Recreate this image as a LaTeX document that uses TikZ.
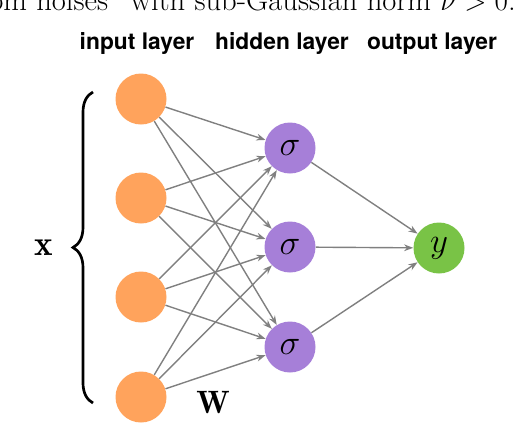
\documentclass[tikz,border=0pt]{standalone}
\usepackage{amsmath}
\usepackage{amssymb}
\usepackage{xcolor}
\usepackage{fontspec}
\newfontfamily\headfont{TeX Gyre Heros}
\usepackage{tikz}
\usetikzlibrary{arrows.meta,shapes,positioning,calc,decorations.pathreplacing}

\definecolor{inorange}{RGB}{255,163,92}
\definecolor{hidpurple}{RGB}{166,127,216}
\definecolor{outgreen}{RGB}{121,195,70}

\begin{document}
\begin{tikzpicture}[
    x=0.025cm, y=-0.025cm,
    inp/.style={circle, fill=inorange, minimum size=51*0.025cm, inner sep=0pt},
    hid/.style={circle, fill=hidpurple, minimum size=51*0.025cm, inner sep=0pt, font=\fontsize{28}{30}\selectfont},
    outp/.style={circle, fill=outgreen, minimum size=51*0.025cm, inner sep=0pt, font=\fontsize{28}{30}\selectfont},
    conn/.style={->, draw=gray, line width=1pt, >={Stealth[length=6.5pt,width=4.8pt]}},
    layer/.style={font=\headfont\bfseries\fontsize{16.2}{19}\selectfont},
]
\clip (0,0) rectangle (518,424);

% cut-off caption line at the top
\node[anchor=base east, inner sep=0pt, font=\fontsize{21.8}{26}\selectfont] (cap) at (516,10)
  {random noises'' with sub-Gaussian norm $\nu > 0$.};

% layer titles
\node[layer] (tin) at (137,44) {input layer};
\node[layer] (thid) at (282,44) {hidden layer};
\node[layer] (tout) at (432,44) {output layer};

% input layer
\node[inp] (in1) at (141,99) {};
\node[inp] (in2) at (141,198) {};
\node[inp] (in3) at (141,297) {};
\node[inp] (in4) at (141,397) {};

% hidden layer
\node[hid] (h1) at (290,148) {$\sigma$};
\node[hid] (h2) at (290,247) {$\sigma$};
\node[hid] (h3) at (290,347) {$\sigma$};

% output
\node[outp] (out) at (439,248) {$y$};

% weights W
\draw[conn] (in1) -- (h1); \draw[conn] (in1) -- (h2); \draw[conn] (in1) -- (h3);
\draw[conn] (in2) -- (h1); \draw[conn] (in2) -- (h2); \draw[conn] (in2) -- (h3);
\draw[conn] (in3) -- (h1); \draw[conn] (in3) -- (h2); \draw[conn] (in3) -- (h3);
\draw[conn] (in4) -- (h1); \draw[conn] (in4) -- (h2); \draw[conn] (in4) -- (h3);

% hidden -> output
\draw[conn] (h1) -- (out);
\draw[conn] (h2) -- (out);
\draw[conn] (h3) -- (out);

% brace over the inputs
\coordinate (brbot) at (93,403);
\coordinate (brtop) at (93,92);
\draw[line width=1.9pt, decorate, decoration={brace, amplitude=0.5cm}] (brbot) -- (brtop);
\node[font=\fontsize{25}{28}\selectfont] (xvec) at (44,248) {$\mathbf{x}$};
\node[font=\fontsize{23}{26}\selectfont] (wmat) at (213,403) {$\mathbf{W}$};

\end{tikzpicture}
\end{document}
